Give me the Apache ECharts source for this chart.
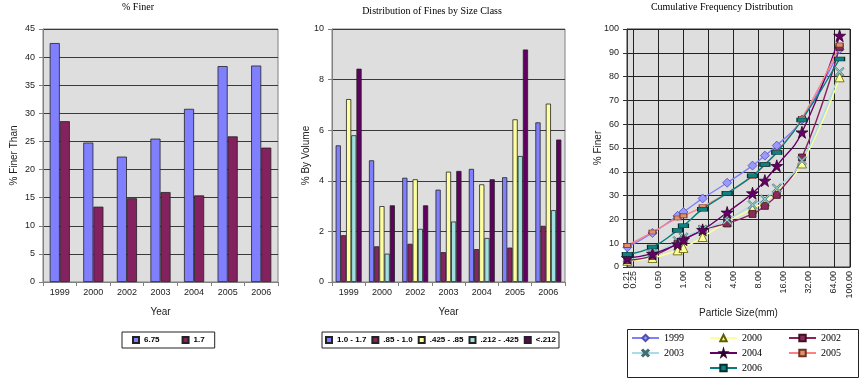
<!DOCTYPE html>
<html><head><meta charset="utf-8">
<script src="https://cdn.jsdelivr.net/npm/echarts@6/dist/echarts.min.js"></script>
<style>html,body{margin:0;padding:0;background:#fff}#c{width:867px;height:386px}</style>
</head><body><div id="c"></div>
<script>
// ---- data ----
const years = ['1999','2000','2002','2003','2004','2005','2006'];
const finer675 = [42.5, 24.8, 22.3, 25.5, 30.8, 38.4, 38.5];
const finer17  = [28.6, 13.4, 14.9, 16.0, 15.4, 25.9, 23.9];

const sizeClassNames = ['1.0 - 1.7', '.85 - 1.0', '.425 - .85', '.212 - .425', '<.212'];
const cls10to17    = [5.40, 4.81, 4.12, 3.65, 4.47, 4.14, 6.31];
const cls085to10   = [1.85, 1.41, 1.51, 1.18, 1.30, 1.36, 2.22];
const cls0425to085 = [7.23, 3.00, 4.06, 4.36, 3.86, 6.43, 7.05];
const cls0212to0425= [5.80, 1.12, 2.10, 2.39, 1.74, 4.98, 2.84];
const clsBelow0212 = [8.43, 3.03, 3.03, 4.39, 4.06, 9.19, 5.63];

const sizeAxisMin = 0.21;
const sizeTicks = [0.25, 0.5, 1, 2, 4, 8, 16, 32, 64, 100];
const particleSizes = [0.212, 0.425, 0.85, 1.0, 1.7, 3.35, 6.75, 9.5, 13.2, 26.5, 75];
const cum1999 = [8.3, 14.3, 21.5, 23.1, 28.8, 35.4, 42.6, 46.8, 51.0, 62.0, 91.5];
const cum2000 = [2.6, 3.8, 7.0, 8.0, 12.6, 19.0, 24.5, 27.5, 31.5, 43.5, 79.7];
const cum2002 = [2.9, 4.7, 9.8, 11.2, 15.6, 18.3, 22.3, 25.7, 30.3, 46.0, 92.5];
const cum2003 = [3.5, 5.5, 11.0, 12.5, 15.8, 19.8, 26.1, 28.5, 33.1, 44.7, 82.0];
const cum2004 = [3.8, 5.6, 9.6, 11.5, 15.6, 22.9, 31.0, 36.3, 42.5, 56.6, 97.2];
const cum2005 = [9.1, 14.7, 20.6, 21.5, 25.3, 31.0, 38.0, 43.0, 48.5, 62.5, 93.3];
const cum2006 = [5.4, 8.4, 15.4, 17.3, 24.3, 31.0, 38.3, 43.1, 48.1, 61.8, 87.4];

// ---- helpers ----
const SANS = 'Liberation Sans, Arial, sans-serif';
const SERIF = 'Liberation Serif, Times New Roman, serif';
const pair = (ys) => particleSizes.map((x, i) => [x, ys[i]]);
const gridBase = {show: true, backgroundColor: '#DEDEDE', borderColor: '#808080', borderWidth: 1};
const axLabel = {color: '#222', fontSize: 9, fontFamily: SANS};
const axName = {color: '#222', fontSize: 10, fontFamily: SANS};
const splitDark = {show: true, lineStyle: {color: '#3a3a3a', width: 1}};
const axLine = {show: true, lineStyle: {color: '#808080'}};
const axTick = {show: true, length: 4, lineStyle: {color: '#808080'}};

const STAR = 'path://M50,0 L61,35 L98,35 L68,57 L79,91 L50,70 L21,91 L32,57 L2,35 L39,35 Z';
const XMARK = 'path://M0,12 L12,0 L50,38 L88,0 L100,12 L62,50 L100,88 L88,100 L50,62 L12,100 L0,88 L38,50 Z';

function barS(name, data, color, xi) {
  return {type: 'bar', name, data, xAxisIndex: xi, yAxisIndex: xi, barGap: '0%',
    barCategoryGap: xi === 0 ? '40%' : '22%',
    itemStyle: {color, borderColor: '#222', borderWidth: 0.8}};
}
function lineS(name, ys, color, symbol, size, fill, border) {
  return {type: 'line', name, data: pair(ys), xAxisIndex: 2, yAxisIndex: 2, smooth: true,
    symbol, symbolSize: size, showAllSymbol: true,
    lineStyle: {color, width: 1.4},
    itemStyle: {color: fill, borderColor: border, borderWidth: 0.8}};
}
const rightLegend = (data, left) => ({data, orient: 'vertical', left, top: 333, padding: 0,
  itemWidth: 27, itemHeight: 8, itemGap: 5, textStyle: {fontSize: 10, fontFamily: SERIF, color: '#000'}});
const isMin = (v) => Math.abs(v - sizeAxisMin) < 0.005;

const option = {
  animation: false,
  grid: [
    Object.assign({left: 43, top: 29, width: 235, height: 253}, gridBase),
    Object.assign({left: 332, top: 29, width: 233, height: 253}, gridBase),
    Object.assign({left: 627, top: 29, width: 223, height: 238}, gridBase, {borderColor: '#333'})
  ],
  xAxis: [
    {type: 'category', gridIndex: 0, data: years, axisLabel: Object.assign({margin: 6}, axLabel),
      axisLine: axLine, axisTick: axTick, name: 'Year', nameLocation: 'middle', nameGap: 25, nameTextStyle: axName},
    {type: 'category', gridIndex: 1, data: years, axisLabel: Object.assign({margin: 6}, axLabel),
      axisLine: axLine, axisTick: axTick, name: 'Year', nameLocation: 'middle', nameGap: 25, nameTextStyle: axName},
    {type: 'log', logBase: 2, gridIndex: 2, position: 'bottom', min: sizeAxisMin, max: 100,
      axisLabel: Object.assign({rotate: 90, margin: 4, showMinLabel: true, showMaxLabel: true,
        customValues: sizeTicks, formatter: (v) => isMin(v) ? '' : Number(v).toFixed(2)}, axLabel),
      axisLine: {show: true, lineStyle: {color: '#333'}}, axisTick: {show: false, customValues: sizeTicks},
      splitLine: {show: true, lineStyle: {color: '#222', width: 1}}, minorTick: {show: false},
      name: 'Particle Size(mm)', nameLocation: 'middle', nameGap: 41, nameTextStyle: axName},
    {type: 'log', logBase: 2, gridIndex: 2, position: 'bottom', offset: 0, min: sizeAxisMin, max: 100,
      axisLabel: Object.assign({rotate: 90, margin: 4, showMinLabel: true, showMaxLabel: false,
        customValues: [sizeAxisMin], formatter: (v) => isMin(v) ? Number(v).toFixed(2) : ''}, axLabel),
      axisLine: {show: false}, axisTick: {show: false}, splitLine: {show: false}, minorTick: {show: false}}
  ],
  yAxis: [
    {type: 'value', gridIndex: 0, min: 0, max: 45, interval: 5, axisLabel: axLabel, axisLine: axLine, axisTick: axTick,
      splitLine: splitDark, name: '% Finer Than', nameLocation: 'middle', nameGap: 24, nameMoveOverlap: false, nameTextStyle: axName},
    {type: 'value', gridIndex: 1, min: 0, max: 10, interval: 2, axisLabel: axLabel, axisLine: axLine, axisTick: axTick,
      splitLine: splitDark, name: '% By Volume', nameLocation: 'middle', nameGap: 21, nameMoveOverlap: false, nameTextStyle: axName},
    {type: 'value', gridIndex: 2, min: 0, max: 100, interval: 10, axisLabel: axLabel,
      axisLine: {show: true, lineStyle: {color: '#333'}}, axisTick: {show: true, length: 4, lineStyle: {color: '#333'}},
      splitLine: {show: true, lineStyle: {color: '#222', width: 1}}, name: '% Finer', nameLocation: 'middle', nameGap: 24,
      nameMoveOverlap: false, nameTextStyle: axName}
  ],
  legend: [
    {data: ['6.75', '1.7'], left: 122, top: 332, icon: 'rect', itemWidth: 6, itemHeight: 6, itemGap: 22,
      padding: [4, 10], borderColor: '#222', borderWidth: 1, textStyle: {fontSize: 8, fontWeight: 'bold', fontFamily: SANS, color: '#000'}},
    {data: sizeClassNames, left: 322, top: 332, icon: 'rect', itemWidth: 6, itemHeight: 6, itemGap: 5,
      padding: [4, 3], borderColor: '#222', borderWidth: 1, textStyle: {fontSize: 8, fontWeight: 'bold', fontFamily: SANS, color: '#000'}},
    rightLegend(['1999', '2003'], 631),
    rightLegend(['2000', '2004', '2006'], 709),
    rightLegend(['2002', '2005'], 788)
  ],
  graphic: [
    {type: 'text', x: 138, y: 7, style: {text: '% Finer', font: '10px ' + SERIF, fill: '#000', textAlign: 'center', textVerticalAlign: 'middle'}},
    {type: 'text', x: 432, y: 11, style: {text: 'Distribution of Fines by Size Class', font: '10px ' + SERIF, fill: '#000', textAlign: 'center', textVerticalAlign: 'middle'}},
    {type: 'text', x: 722, y: 7, style: {text: 'Cumulative Frequency Distribution', font: '10px ' + SERIF, fill: '#000', textAlign: 'center', textVerticalAlign: 'middle'}},
    {type: 'rect', shape: {x: 627.5, y: 329.5, width: 231, height: 48}, style: {fill: 'none', stroke: '#222', lineWidth: 1}}
  ],
  series: [
    barS('6.75', finer675, '#8080FF', 0),
    barS('1.7', finer17, '#84215F', 0),
    barS(sizeClassNames[0], cls10to17, '#8080FF', 1),
    barS(sizeClassNames[1], cls085to10, '#862462', 1),
    barS(sizeClassNames[2], cls0425to085, '#FFFFA0', 1),
    barS(sizeClassNames[3], cls0212to0425, '#A0E0E0', 1),
    barS(sizeClassNames[4], clsBelow0212, '#600060', 1),
    lineS('1999', cum1999, '#8080FF', 'diamond', 9, '#9999FF', '#5050B0'),
    lineS('2000', cum2000, '#FFFF99', 'triangle', 9, '#FFFF99', '#606000'),
    lineS('2002', cum2002, '#8A2060', 'rect', 7, '#8A2A5A', '#401020'),
    lineS('2003', cum2003, '#A8DCE8', XMARK, 9, '#A0D0D0', '#407070'),
    lineS('2004', cum2004, '#660066', STAR, 12, '#660066', '#300030'),
    lineS('2005', cum2005, '#FF8080', 'rect', [7, 4], '#E09070', '#703020'),
    lineS('2006', cum2006, '#008080', 'rect', [10, 4], '#108080', '#003030')
  ]
};
const chart = echarts.init(document.getElementById('c'), null, {renderer: 'canvas'});
chart.setOption(option);
</script>
</body></html>
